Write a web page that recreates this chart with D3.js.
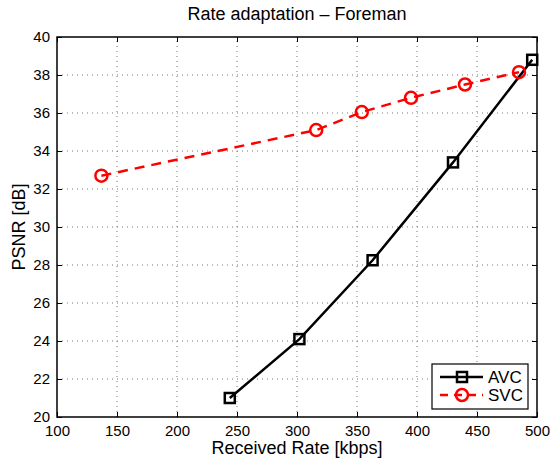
<!DOCTYPE html>
<html>
<head>
<meta charset="utf-8">
<script src="https://cdn.jsdelivr.net/npm/d3@7"></script>
<style>
  body { margin: 0; background: #fff; }
  text { font-family: "Liberation Sans", Arial, sans-serif; fill: #000; }
</style>
</head>
<body>
<div class="container"></div>
<script>
const avcRate = [244, 302, 363, 430, 496];
const avcPsnr = [21.0, 24.1, 28.25, 33.4, 38.8];
const svcRate = [137, 316, 354, 395, 440, 485];
const svcPsnr = [32.7, 35.1, 36.05, 36.8, 37.5, 38.15];
const xTicks = [100, 150, 200, 250, 300, 350, 400, 450, 500];
const yTicks = [20, 22, 24, 26, 28, 30, 32, 34, 36, 38, 40];

const width = 552, height = 461;
const margin = {top: 37, right: 15, bottom: 44, left: 57};

const svg = d3.select('.container')
    .append('svg')
    .attr('width', width)
    .attr('height', height);

const x = d3.scaleLinear().domain([100, 500]).range([margin.left, width - margin.right]);
const y = d3.scaleLinear().domain([20, 40]).range([height - margin.bottom, margin.top]);

// grid
svg.append('g')
    .selectAll('line')
    .data(xTicks.slice(1, -1))
    .enter().append('line')
    .attr('x1', d => x(d)).attr('x2', d => x(d))
    .attr('y1', y(20)).attr('y2', y(40))
    .attr('stroke', '#777').attr('stroke-width', 1)
    .attr('stroke-dasharray', '1,4');
svg.append('g')
    .selectAll('line')
    .data(yTicks.slice(1, -1))
    .enter().append('line')
    .attr('x1', x(100)).attr('x2', x(500))
    .attr('y1', d => y(d)).attr('y2', d => y(d))
    .attr('stroke', '#777').attr('stroke-width', 1)
    .attr('stroke-dasharray', '1,4');

// axes (ticks inward)
const tick = 5;
svg.append('g')
    .attr('transform', `translate(0,${y(20)})`)
    .call(d3.axisBottom(x).tickValues(xTicks).tickSize(-tick).tickPadding(8))
    .call(g => g.select('.domain').remove());
svg.append('g')
    .attr('transform', `translate(0,${y(40)})`)
    .call(d3.axisTop(x).tickValues(xTicks).tickSize(-tick).tickFormat(''))
    .call(g => g.select('.domain').remove());
svg.append('g')
    .attr('transform', `translate(${x(100)},0)`)
    .call(d3.axisLeft(y).tickValues(yTicks).tickSize(-tick).tickPadding(7))
    .call(g => g.select('.domain').remove());
svg.append('g')
    .attr('transform', `translate(${x(500)},0)`)
    .call(d3.axisRight(y).tickValues(yTicks).tickSize(-tick).tickFormat(''))
    .call(g => g.select('.domain').remove());
svg.selectAll('.tick text').attr('font-size', 15).style('font-size', '15px');
svg.selectAll('.tick line').attr('stroke', '#000');

svg.append('rect')
    .attr('x', x(100)).attr('y', y(40))
    .attr('width', x(500) - x(100)).attr('height', y(20) - y(40))
    .attr('fill', 'none').attr('stroke', '#000').attr('stroke-width', 1.5);

// lines
const line = d3.line().x(d => x(d[0])).y(d => y(d[1]));
const avc = avcRate.map((r, i) => [r, avcPsnr[i]]);
const svc = svcRate.map((r, i) => [r, svcPsnr[i]]);

svg.append('path').datum(svc).attr('d', line)
    .attr('fill', 'none').attr('stroke', '#f00').attr('stroke-width', 2.5)
    .attr('stroke-dasharray', '10,7');
svg.append('path').datum(avc).attr('d', line)
    .attr('fill', 'none').attr('stroke', '#000').attr('stroke-width', 2.5);

svg.append('g').selectAll('rect').data(avc).enter().append('rect')
    .attr('x', d => x(d[0]) - 5).attr('y', d => y(d[1]) - 5)
    .attr('width', 10).attr('height', 10)
    .attr('fill', 'none').attr('stroke', '#000').attr('stroke-width', 2.5);
svg.append('g').selectAll('circle').data(svc).enter().append('circle')
    .attr('cx', d => x(d[0])).attr('cy', d => y(d[1])).attr('r', 6)
    .attr('fill', 'none').attr('stroke', '#f00').attr('stroke-width', 2.5);

// labels
svg.append('text').attr('x', (x(100) + x(500)) / 2).attr('y', 20)
    .attr('text-anchor', 'middle').style('font-size', '18px').text('Rate adaptation \u2013 Foreman');
svg.append('text').attr('x', (x(100) + x(500)) / 2).attr('y', 454)
    .attr('text-anchor', 'middle').style('font-size', '18px').text('Received Rate [kbps]');
svg.append('text').attr('transform', `translate(25,${(y(20) + y(40)) / 2}) rotate(-90)`)
    .attr('text-anchor', 'middle').style('font-size', '18px').text('PSNR [dB]');

// legend
const lg = svg.append('g').attr('transform', 'translate(432,364)');
lg.append('rect').attr('width', 96).attr('height', 45)
    .attr('fill', '#fff').attr('stroke', '#000').attr('stroke-width', 1.2);
lg.append('line').attr('x1', 8).attr('x2', 51).attr('y1', 13).attr('y2', 13)
    .attr('stroke', '#000').attr('stroke-width', 2.5);
lg.append('rect').attr('x', 25).attr('y', 8).attr('width', 10).attr('height', 10)
    .attr('fill', 'none').attr('stroke', '#000').attr('stroke-width', 2.5);
lg.append('line').attr('x1', 8).attr('x2', 51).attr('y1', 31).attr('y2', 31)
    .attr('stroke', '#f00').attr('stroke-width', 2.5).attr('stroke-dasharray', '8,6');
lg.append('circle').attr('cx', 30).attr('cy', 31).attr('r', 6)
    .attr('fill', 'none').attr('stroke', '#f00').attr('stroke-width', 2.5);
lg.append('text').attr('x', 56).attr('y', 19).style('font-size', '17px').text('AVC');
lg.append('text').attr('x', 56).attr('y', 37).style('font-size', '17px').text('SVC');
</script>
</body>
</html>
